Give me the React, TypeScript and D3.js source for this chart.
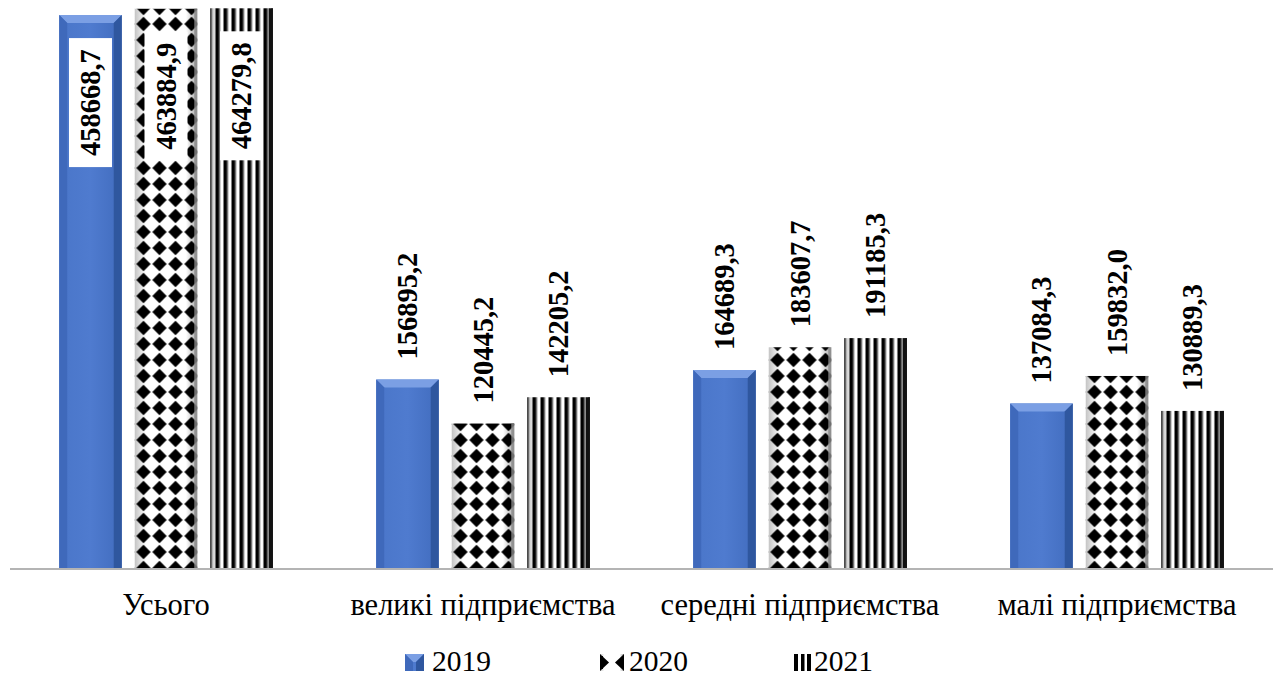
import React from "react";
import * as d3 from "d3";

const categories = ["Усього", "великі підприємства", "середні підприємства", "малі підприємства"];
const years = ["2019", "2020", "2021"];
const values2019 = [458668.7, 156895.2, 164689.3, 137084.3];
const values2020 = [463884.9, 120445.2, 183607.7, 159832.0];
const values2021 = [464279.8, 142205.2, 191185.3, 130889.3];
const seriesValues = [values2019, values2020, values2021];

const W = 1279;
const H = 693;
const baseY = 569;
const FONT = '"Liberation Serif", "Times New Roman", "DejaVu Serif", serif';

const fmt = (v: number) => d3.format(".1f")(v).replace(".", ",");

function BlueBar({ x, y, w, h }: { x: number; y: number; w: number; h: number }) {
  const b = Math.min(8, h / 2);
  return (
    <g>
      <rect x={x} y={y} width={w} height={h} fill="url(#blueGrad)" />
      <polygon points={`${x},${y} ${x + w},${y} ${x + w - b},${y + b} ${x + b},${y + b}`} fill="#7b9fe4" />
      <polygon points={`${x},${y} ${x + b},${y + b} ${x + b},${y + h} ${x},${y + h}`} fill="#3f69bb" />
      <polygon points={`${x + w},${y} ${x + w - b},${y + b} ${x + w - b},${y + h} ${x + w},${y + h}`} fill="#2f579f" />
    </g>
  );
}

function DiamondBar({ x, y, w, h }: { x: number; y: number; w: number; h: number }) {
  return (
    <g>
      <rect x={x} y={y} width={w} height={h} fill="url(#greyEdge)" />
      <rect x={x} y={y} width={w} height={h} fill="url(#diamonds)" />
      <rect x={x + w - 3} y={y} width={3} height={h} fill="#8a8a8a" opacity={0.8} />
    </g>
  );
}

function StripeBar({ x, y, w, h }: { x: number; y: number; w: number; h: number }) {
  return (
    <g>
      <rect x={x} y={y} width={w} height={h} fill="url(#greyEdge)" />
      <rect x={x} y={y} width={w} height={h} fill="url(#stripes)" />
      <rect x={x + w - 4} y={y} width={4} height={h} fill="#111" />
    </g>
  );
}

export default function App() {
  const x0 = d3.scaleBand<string>().domain(categories).range([7.5, 1275.5]).padding(0);
  const x1 = d3
    .scaleBand<string>()
    .domain(years)
    .range([0, x0.bandwidth()])
    .paddingInner(0.172)
    .paddingOuter(0.685);
  const y = d3.scaleLinear().domain([0, 470000]).range([baseY, 1.4]);

  const legendX = [405, 600, 794];

  return (
    <svg
      width={W}
      height={H}
      style={{ position: "absolute", left: 0, top: 0, background: "#fff", fontFamily: FONT }}
    >
      <defs>
        <linearGradient id="blueGrad" x1="0" x2="1" y1="0" y2="0">
          <stop offset="0" stopColor="#4a76c9" />
          <stop offset="0.5" stopColor="#4f7bcf" />
          <stop offset="1" stopColor="#416cbe" />
        </linearGradient>
        <linearGradient id="greyEdge" x1="0" x2="1" y1="0" y2="0">
          <stop offset="0" stopColor="#c4c4c4" />
          <stop offset="0.18" stopColor="#ffffff" />
          <stop offset="0.82" stopColor="#ffffff" />
          <stop offset="1" stopColor="#a8a8a8" />
        </linearGradient>
        <pattern id="diamonds" patternUnits="userSpaceOnUse" width={16} height={16}>
          <polygon points="8,0.8 15.2,8 8,15.2 0.8,8" fill="#000" />
        </pattern>
        <pattern id="stripes" patternUnits="userSpaceOnUse" width={8} height={8}>
          <rect x={0} y={0} width={3.8} height={8} fill="#000" />
          <rect x={3.8} y={0} width={1} height={8} fill="#888" />
        </pattern>
      </defs>

      {categories.map((cat, ci) => (
        <g key={cat} transform={`translate(${x0(cat)},0)`}>
          {years.map((yr, si) => {
            const v = seriesValues[si][ci];
            const bx = x1(yr)!;
            const bw = x1.bandwidth();
            const top = y(v);
            const h = baseY - top;
            const Bar = si === 0 ? BlueBar : si === 1 ? DiamondBar : StripeBar;
            const cx = bx + bw / 2;
            return (
              <g key={yr}>
                <Bar x={bx} y={top} w={bw} h={h} />
                {ci === 0 ? (
                  <g>
                    <rect x={cx - 21.5} y={top + 23} width={43} height={129} fill="#fff" />
                    <text
                      transform={`translate(${cx},${top + 23 + 64.5}) rotate(-90)`}
                      textAnchor="middle"
                      dy="0.35em"
                      fontSize={28.5}
                      fontWeight="bold"
                      fill="#000"
                    >
                      {fmt(v)}
                    </text>
                  </g>
                ) : (
                  <text
                    transform={`translate(${cx},${top - 20}) rotate(-90)`}
                    textAnchor="start"
                    dy="0.35em"
                    fontSize={28.5}
                    fontWeight="bold"
                    fill="#000"
                  >
                    {fmt(v)}
                  </text>
                )}
              </g>
            );
          })}
        </g>
      ))}

      <line x1={10} x2={1273} y1={baseY} y2={baseY} stroke="#b4b4b4" strokeWidth={1.8} />

      {categories.map((cat) => (
        <text
          key={cat}
          x={x0(cat)! + x0.bandwidth() / 2}
          y={615}
          textAnchor="middle"
          fontSize={30.5}
          fill="#000"
        >
          {cat}
        </text>
      ))}

      {years.map((yr, i) => {
        const lx = legendX[i];
        return (
          <g key={yr}>
            {i === 0 && <BlueBar x={lx} y={654} w={19} h={17} />}
            {i === 1 && (
              <g>
                <rect x={lx} y={654} width={24} height={17} fill="url(#greyEdge)" />
                <polygon points={`${lx},${654} ${lx + 9},${662.5} ${lx},${671}`} fill="#000" />
                <polygon points={`${lx + 24},${654} ${lx + 15},${662.5} ${lx + 24},${671}`} fill="#000" />
                <rect x={lx} y={656} width={3} height={13} fill="#000" />
              </g>
            )}
            {i === 2 && (
              <g>
                <rect x={lx} y={654} width={4} height={17} fill="#000" />
                <rect x={lx + 7} y={654} width={3.5} height={17} fill="#000" />
                <rect x={lx + 13} y={654} width={4} height={17} fill="#000" />
              </g>
            )}
            <text
              x={lx + (i === 0 ? 27 : i === 1 ? 29 : 20)}
              y={671}
              fontSize={29.5}
              fill="#000"
            >
              {yr}
            </text>
          </g>
        );
      })}
    </svg>
  );
}
